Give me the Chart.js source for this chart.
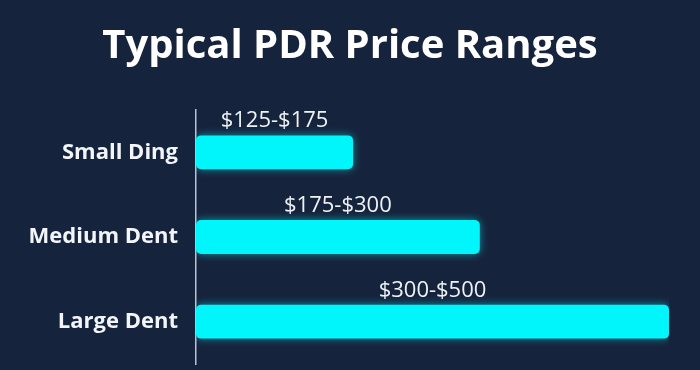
<!DOCTYPE html>
<html>
<head>
<meta charset="utf-8">
<script src="https://cdn.jsdelivr.net/npm/chart.js@4.4.0/dist/chart.umd.min.js"></script>
<style>
html,body{margin:0;padding:0;background:#16233c;overflow:hidden;}
#wrap{position:relative;width:700px;height:370px;}
</style>
</head>
<body>
<div id="wrap"><canvas id="c"></canvas></div>
<script>
const categories = ["Small Ding", "Medium Dent", "Large Dent"];
const barValues = [166, 300, 500];
const rangeLabels = ["$125-$175", "$175-$300", "$300-$500"];
const chartTitle = "Typical PDR Price Ranges";

const bgPlugin = {
  id: 'bg',
  beforeDraw(chart) {
    const ctx = chart.ctx;
    ctx.save();
    ctx.fillStyle = '#16233c';
    ctx.fillRect(0, 0, chart.width, chart.height);
    ctx.restore();
  }
};

const titlePlugin = {
  id: 'mainTitle',
  afterDraw(chart) {
    const ctx = chart.ctx;
    ctx.save();
    ctx.font = '700 40px "Open Sans", sans-serif';
    ctx.fillStyle = '#ffffff';
    ctx.textAlign = 'center';
    ctx.textBaseline = 'alphabetic';
    ctx.fillText(chartTitle, chart.width / 2, 58);
    ctx.restore();
  }
};

const glowPlugin = {
  id: 'glow',
  beforeDatasetsDraw(chart) {
    const ctx = chart.ctx;
    ctx.save();
    ctx.shadowColor = 'rgba(0,245,255,0.55)';
    ctx.shadowBlur = 9;
  },
  afterDatasetsDraw(chart) {
    chart.ctx.restore();
  }
};

const labelPlugin = {
  id: 'rangeLabels',
  afterDatasetsDraw(chart) {
    const ctx = chart.ctx;
    const meta = chart.getDatasetMeta(0);
    ctx.save();
    ctx.font = '400 22px "Open Sans", sans-serif';
    ctx.fillStyle = '#eef2f7';
    ctx.textAlign = 'center';
    ctx.textBaseline = 'alphabetic';
    meta.data.forEach((bar, i) => {
      const cx = (bar.base + bar.x) / 2;
      const cy = bar.y - bar.height / 2 - 8;
      ctx.fillText(rangeLabels[i], cx, cy);
    });
    ctx.restore();
  }
};

new Chart(document.getElementById('c'), {
  type: 'bar',
  data: {
    labels: categories,
    datasets: [{
      data: barValues,
      backgroundColor: '#00f6fb',
      borderRadius: 5,
      borderSkipped: false,
      barPercentage: 0.4,
      categoryPercentage: 1
    }]
  },
  options: {
    indexAxis: 'y',
    responsive: true,
    maintainAspectRatio: false,
    animation: false,
    devicePixelRatio: 1,
    layout: { padding: { left: 0, right: 31, top: 110, bottom: 6 } },
    plugins: {
      legend: { display: false },
      tooltip: { enabled: false },
      title: { display: false }
    },
    scales: {
      x: {
        display: false,
        min: 0,
        max: 500
      },
      y: {
        afterFit(scale) {
          scale.width = 196;
          scale.paddingTop = 0;
          scale.paddingBottom = 0;
        },
        grid: { display: false, drawTicks: false },
        border: { display: true, color: '#b9c2cf', width: 1.5 },
        ticks: {
          color: '#f2f5f9',
          padding: 18,
          font: { family: '"Open Sans", sans-serif', size: 22, weight: 'bold' }
        }
      }
    }
  },
  plugins: [bgPlugin, glowPlugin, labelPlugin, titlePlugin]
});
</script>
</body>
</html>
